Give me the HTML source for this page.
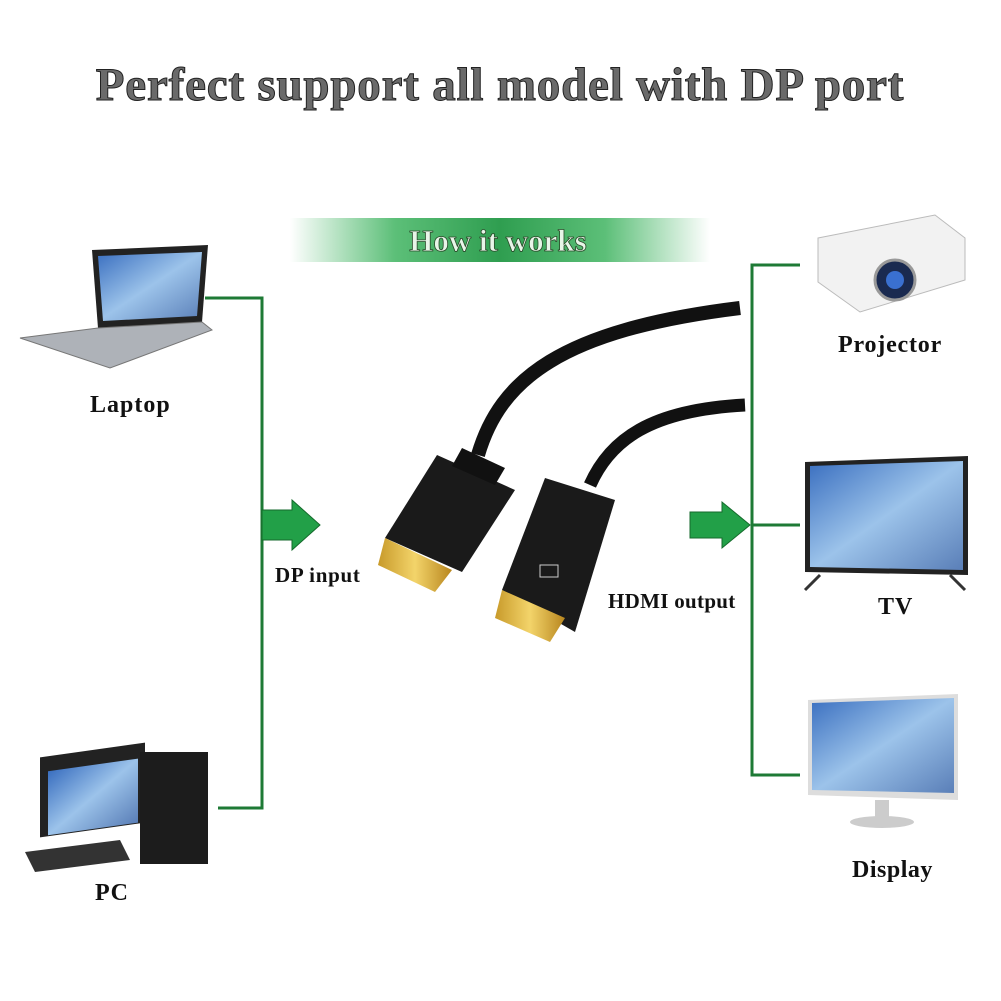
<!DOCTYPE html>
<html><head><meta charset="utf-8"><style>
body{margin:0;background:#fff}
svg{display:block}
text{font-family:"Liberation Serif",serif;font-weight:bold}
</style></head><body>
<svg width="1001" height="1001" viewBox="0 0 1001 1001">
<defs>
<linearGradient id="ban" x1="0" x2="1">
<stop offset="0" stop-color="#fff"/><stop offset="0.25" stop-color="#5cbf78"/><stop offset="0.5" stop-color="#2f9e50"/><stop offset="0.75" stop-color="#5cbf78"/><stop offset="1" stop-color="#fff"/>
</linearGradient>
<linearGradient id="scr" x1="0" y1="0" x2="1" y2="1">
<stop offset="0" stop-color="#3a6fc0"/><stop offset="0.5" stop-color="#9cc3ea"/><stop offset="1" stop-color="#5a7fb8"/>
</linearGradient>
<linearGradient id="gold" x1="0" x2="1"><stop offset="0" stop-color="#c89a2a"/><stop offset="0.5" stop-color="#f3d46a"/><stop offset="1" stop-color="#b8861e"/></linearGradient>
</defs>
<text x="500" y="100" font-size="47" text-anchor="middle" letter-spacing="0.8" fill="#6a6a6a" stroke="#222" stroke-width="1">Perfect support all model with DP port</text>
<rect x="290" y="218" width="420" height="44" fill="url(#ban)"/>
<text x="498" y="251" font-size="31" text-anchor="middle" fill="#e8f5e8" stroke="#2a4a2a" stroke-width="0.8">How it works</text>
<g stroke="#1e7a35" stroke-width="3" fill="none">
<polyline points="205,298 262,298 262,808 218,808"/>
<polyline points="800,265 752,265 752,775 800,775"/>
<line x1="752" y1="525" x2="800" y2="525"/>
</g>
<polygon points="262,510 292,510 292,500 320,525 292,550 292,540 262,540" fill="#22a048" stroke="#156a2c"/>
<polygon points="690,512 722,512 722,502 750,525 722,548 722,538 690,538" fill="#22a048" stroke="#156a2c"/>
<text x="275" y="582" font-size="21" letter-spacing="0.7" fill="#111">DP input</text>
<text x="608" y="608" font-size="21" letter-spacing="0.3" fill="#111">HDMI output</text>
<path d="M478,455 C500,380 560,330 740,308" stroke="#111" stroke-width="14" fill="none"/>
<path d="M590,485 C610,440 650,410 745,405" stroke="#111" stroke-width="13" fill="none"/>
<polygon points="437,455 515,490 462,572 385,538" fill="#1a1a1a"/>
<polygon points="462,448 505,468 495,485 452,466" fill="#111"/>
<polygon points="385,538 452,570 435,592 378,565" fill="url(#gold)"/>
<polygon points="545,478 615,500 575,632 502,590" fill="#1a1a1a"/>
<rect x="540" y="565" width="18" height="12" fill="none" stroke="#ccc"/>
<polygon points="502,590 565,618 550,642 495,618" fill="url(#gold)"/>
<polygon points="92,250 208,245 202,322 98,328" fill="#222"/>
<polygon points="98,256 202,252 197,316 103,321" fill="url(#scr)"/>
<polygon points="98,328 202,322 212,330 110,368 20,338" fill="#aeb2b8" stroke="#777"/>
<text x="90" y="412" font-size="24" letter-spacing="1" fill="#111">Laptop</text>
<rect x="40" y="745" width="105" height="80" fill="#222" transform="skewY(-8) translate(0,18)"/>
<rect x="48" y="760" width="90" height="64" fill="url(#scr)" transform="skewY(-8) translate(0,18)"/>
<rect x="140" y="752" width="68" height="112" fill="#1c1c1c"/>
<polygon points="25,852 120,840 130,860 35,872" fill="#333"/>
<text x="95" y="900" font-size="24" letter-spacing="1" fill="#111">PC</text>
<polygon points="818,238 935,215 965,238 965,280 860,312 818,282" fill="#f2f2f2" stroke="#bbb"/>
<circle cx="895" cy="280" r="20" fill="#1a2a50" stroke="#999" stroke-width="3"/>
<circle cx="895" cy="280" r="9" fill="#3a70d0"/>
<text x="838" y="352" font-size="24" letter-spacing="0.8" fill="#111">Projector</text>
<polygon points="805,462 968,456 968,575 805,572" fill="#222"/>
<polygon points="810,466 963,461 963,570 810,567" fill="url(#scr)"/>
<line x1="820" y1="575" x2="805" y2="590" stroke="#333" stroke-width="3"/>
<line x1="950" y1="575" x2="965" y2="590" stroke="#333" stroke-width="3"/>
<text x="878" y="614" font-size="24" letter-spacing="1" fill="#111">TV</text>
<polygon points="808,700 958,694 958,800 808,795" fill="#ddd"/>
<polygon points="812,703 954,698 954,793 812,790" fill="url(#scr)"/>
<rect x="875" y="800" width="14" height="18" fill="#ccc"/>
<ellipse cx="882" cy="822" rx="32" ry="6" fill="#ccc"/>
<text x="852" y="877" font-size="24" letter-spacing="0.5" fill="#111">Display</text>
</svg>
</body></html>
